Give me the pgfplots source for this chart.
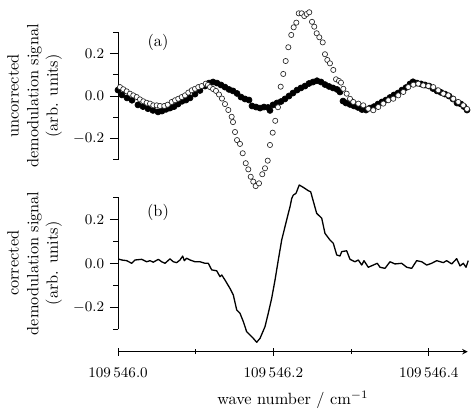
\documentclass[border=0pt]{standalone}
\usepackage{pgfplots}
\pgfplotsset{compat=1.18}
\begin{document}
\begin{tikzpicture}
\useasboundingbox (0pt,0pt) rectangle (290.14pt,-253.95pt);
\pgfplotsset{
 common/.style={
  scale only axis, width=214.48pt,
  xmin=0, xmax=0.45,
  axis y line=left, axis line style={-, line width=0.5pt},
  tick align=outside, major tick length=5pt, minor tick length=3pt,
  every tick/.style={black, line width=0.5pt},
  ytick={-0.2,0,0.2}, minor ytick={-0.3,-0.1,0.1,0.3},
  ymin=-0.3, ymax=0.3,
  yticklabel style={/pgf/number format/.cd, fixed, fixed zerofill, precision=1},
  tick label style={font=\small},
  ylabel style={align=center},
  clip=false,
 }
}
\begin{axis}[common, at={(72.38pt,-97.90pt)}, anchor=south west, height=78.02pt,
  axis x line=none, xtick=\empty,
  ylabel={uncorrected\\demodulation signal\\(arb. units)}]
\addplot[only marks, mark=*, mark size=1.85pt, black] coordinates {
(0.0000,0.028) (0.0051,0.005) (0.0116,-0.009) (0.0180,-0.020) (0.0257,-0.042)
(0.0322,-0.050) (0.0386,-0.060) (0.0450,-0.068) (0.0515,-0.075) (0.0566,-0.071)
(0.0618,-0.063) (0.0669,-0.057) (0.0721,-0.050) (0.0772,-0.038) (0.0824,-0.025)
(0.0875,-0.019) (0.0927,-0.009) (0.0991,0.009) (0.1055,0.026) (0.1120,0.047)
(0.1171,0.061) (0.1223,0.066) (0.1274,0.061) (0.1326,0.052) (0.1377,0.042)
(0.1429,0.031) (0.1480,0.024) (0.1532,0.012) (0.1583,-0.005) (0.1634,-0.014)
(0.1686,-0.019) (0.1725,-0.047) (0.1776,-0.052) (0.1828,-0.057) (0.1879,-0.052)
(0.1931,-0.054) (0.1956,-0.068) (0.1995,-0.042) (0.2046,-0.033) (0.2098,-0.026)
(0.2149,-0.014) (0.2201,0.000) (0.2252,0.014) (0.2304,0.028) (0.2355,0.038)
(0.2407,0.047) (0.2458,0.059) (0.2510,0.066) (0.2561,0.072) (0.2613,0.066)
(0.2664,0.054) (0.2716,0.045) (0.2767,0.038) (0.2819,0.031) (0.2857,0.019)
(0.2896,-0.024) (0.2934,-0.033) (0.2986,-0.040) (0.3037,-0.047) (0.3089,-0.054)
(0.3140,-0.064) (0.3192,-0.066) (0.3243,-0.057) (0.3295,-0.050) (0.3346,-0.038)
(0.3398,-0.028) (0.3449,-0.019) (0.3501,-0.007) (0.3552,0.005) (0.3604,0.014)
(0.3655,0.028) (0.3707,0.040) (0.3758,0.057) (0.3797,0.067) (0.3848,0.061)
(0.3900,0.057) (0.3951,0.052) (0.4003,0.047) (0.4054,0.035) (0.4106,0.024)
(0.4157,0.017) (0.4208,0.009) (0.4260,0.000) (0.4311,-0.014) (0.4363,-0.033)
(0.4414,-0.038) (0.4453,-0.050) (0.4492,-0.066)
};
\addplot[only marks, mark=*, mark size=1.6pt, mark options={fill=white, draw=black!85, line width=0.4pt}] coordinates {
(0.0026,0.042) (0.0068,0.032) (0.0112,0.022) (0.0154,0.011) (0.0197,0.003)
(0.0241,-0.005) (0.0283,-0.016) (0.0326,-0.025) (0.0369,-0.032) (0.0412,-0.036)
(0.0454,-0.044) (0.0498,-0.044) (0.0541,-0.047) (0.0596,-0.047) (0.0640,-0.041)
(0.0691,-0.028) (0.0734,-0.020) (0.0776,-0.013) (0.0820,-0.005) (0.0862,0.003)
(0.0905,0.016) (0.0949,0.027) (0.0991,0.034) (0.1033,0.042) (0.1077,0.047)
(0.1129,0.058) (0.1158,0.052) (0.1184,0.042) (0.1223,0.033) (0.1261,0.024)
(0.1300,0.007) (0.1338,-0.012) (0.1377,-0.038) (0.1420,-0.066) (0.1463,-0.098)
(0.1480,-0.123) (0.1506,-0.170) (0.1532,-0.208) (0.1570,-0.226) (0.1605,-0.270)
(0.1644,-0.317) (0.1677,-0.346) (0.1708,-0.381) (0.1741,-0.404) (0.1772,-0.425)
(0.1815,-0.412) (0.1857,-0.369) (0.1892,-0.341) (0.1927,-0.305) (0.1956,-0.231)
(0.1991,-0.173) (0.2024,-0.117) (0.2059,-0.053) (0.2094,0.044) (0.2127,0.104)
(0.2158,0.165) (0.2192,0.230) (0.2230,0.288) (0.2261,0.324) (0.2295,0.346)
(0.2326,0.390) (0.2364,0.390) (0.2398,0.377) (0.2429,0.387) (0.2462,0.395)
(0.2497,0.350) (0.2526,0.327) (0.2557,0.296) (0.2591,0.277) (0.2635,0.253)
(0.2664,0.197) (0.2694,0.170) (0.2728,0.154) (0.2771,0.123) (0.2806,0.079)
(0.2844,0.071) (0.2870,0.063) (0.2900,0.034) (0.2943,0.011) (0.2986,-0.013)
(0.3028,-0.028) (0.3093,-0.036) (0.3157,-0.044) (0.3221,-0.060) (0.3286,-0.067)
(0.3350,-0.052) (0.3414,-0.036) (0.3479,-0.020) (0.3543,-0.013) (0.3607,0.003)
(0.3672,0.019) (0.3736,0.042) (0.3801,0.053) (0.3865,0.058) (0.3929,0.050)
(0.3994,0.047) (0.4058,0.042) (0.4122,0.027) (0.4187,0.011) (0.4251,0.003)
(0.4315,-0.013) (0.4380,-0.028) (0.4444,-0.044) (0.4492,-0.061)
};
\node at (axis cs:0.0515,0.255) {(a)};
\end{axis}
\begin{axis}[common, at={(72.38pt,-201.99pt)}, anchor=south west, height=80.97pt,
  axis x line=bottom, axis x line shift=13.74pt,
  xtick={0,0.2,0.4}, minor xtick={0.1,0.3},
  xticklabels={$109\,546.0$,$109\,546.2$,$109\,546.4$},
  xticklabel style={yshift=-4pt},
  xlabel={wave number~/~cm$^{-1}$},
  xlabel style={yshift=-1.5pt},
  ylabel={corrected\\demodulation signal\\(arb. units)}]
\addplot[black, line width=0.8pt, line join=round, mark=none] coordinates {
(0.0004,0.0195) (0.0048,0.015) (0.0112,0.012) (0.0176,0.000) (0.0219,0.015)
(0.0305,0.018) (0.0369,0.007) (0.0412,0.012) (0.0454,0.005) (0.0519,0.018)
(0.0562,0.007) (0.0605,0.000) (0.0669,0.020) (0.0712,0.007) (0.0755,0.003)
(0.0798,0.015) (0.0833,0.033) (0.0853,0.012) (0.0884,0.023) (0.0927,0.015)
(0.0991,0.007) (0.1055,0.007) (0.1120,0.000) (0.1162,0.000) (0.1206,-0.030)
(0.1270,-0.034) (0.1313,-0.061) (0.1335,-0.053) (0.1377,-0.076) (0.1441,-0.114)
(0.1484,-0.144) (0.1528,-0.212) (0.1570,-0.227) (0.1613,-0.265) (0.1656,-0.311)
(0.1699,-0.326) (0.1741,-0.341) (0.1785,-0.359) (0.1828,-0.341) (0.1892,-0.288)
(0.1934,-0.227) (0.1978,-0.159) (0.2021,-0.076) (0.2063,0.015) (0.2107,0.106)
(0.2149,0.166) (0.2192,0.227) (0.2214,0.257) (0.2236,0.295) (0.2256,0.310)
(0.2291,0.318) (0.2333,0.356) (0.2385,0.345) (0.2449,0.330) (0.2480,0.325)
(0.2557,0.227) (0.2622,0.205) (0.2664,0.136) (0.2728,0.106) (0.2771,0.091)
(0.2815,0.038) (0.2857,0.033) (0.2879,0.053) (0.2943,0.057) (0.2986,0.018)
(0.3050,0.007) (0.3093,0.015) (0.3137,-0.008) (0.3166,0.012) (0.3221,-0.018)
(0.3286,-0.008) (0.3337,0.000) (0.3372,-0.018) (0.3436,-0.023) (0.3501,0.007)
(0.3565,-0.003) (0.3651,0.000) (0.3716,-0.018) (0.3780,-0.023) (0.3844,0.012)
(0.3909,0.007) (0.3973,-0.008) (0.4037,0.000) (0.4102,0.012) (0.4187,0.003)
(0.4230,0.012) (0.4295,-0.003) (0.4359,0.021) (0.4402,-0.012) (0.4444,0.000)
(0.4479,-0.018) (0.4508,0.012)
};
\node at (axis cs:0.0515,0.233) {(b)};
\end{axis}
\end{tikzpicture}
\end{document}
